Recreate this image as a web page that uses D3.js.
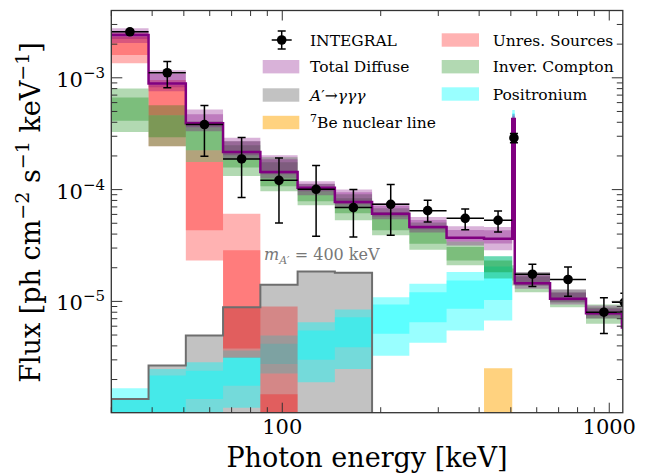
<!DOCTYPE html>
<html>
<head>
<meta charset="utf-8">
<script src="https://cdn.jsdelivr.net/npm/d3@7"></script>
<style>
body { margin: 0; background: #fff; }
text { font-family: "DejaVu Serif", serif; }
</style>
</head>
<body>
<svg id="chart" width="654" height="475"></svg>
<script>
// bin edges [keV]
var edges = [30, 39, 50.7, 65.9, 85.7, 111.4, 144.8, 188.2, 244.7, 318, 414, 505, 514, 659, 849, 1093, 1400];

// bands per bin: [lo95, lo68, hi68, hi95]
var totalBand = [
  [2.05e-3, 2.22e-3, 2.62e-3, 2.77e-3], [7.60e-4, 8.25e-4, 1.08e-3, 1.17e-3],
  [3.33e-4, 3.62e-4, 4.73e-4, 5.21e-4], [1.87e-4, 2.03e-4, 2.71e-4, 2.91e-4],
  [1.26e-4, 1.37e-4, 1.87e-4, 2.03e-4], [8.89e-5, 9.66e-5, 1.13e-4, 1.19e-4],
  [6.94e-5, 7.39e-5, 9.46e-5, 1.00e-4], [5.42e-5, 5.76e-5, 7.16e-5, 7.58e-5],
  [4.14e-5, 4.41e-5, 5.36e-5, 5.68e-5], [3.17e-5, 3.44e-5, 4.36e-5, 4.69e-5],
  [2.86e-5, 3.30e-5, 4.32e-5, 4.62e-5], [3.77e-4, 4.01e-4, 4.54e-4, 4.73e-4],
  [1.30e-5, 1.39e-5, 1.71e-5, 1.82e-5], [9.38e-6, 9.98e-6, 1.20e-5, 1.28e-5],
  [7.03e-6, 7.48e-6, 8.64e-6, 9.19e-6], [5.16e-6, 5.49e-6, 6.34e-6, 6.75e-6]
];
var totalMed = [2.41e-3, 8.91e-4, 3.93e-4, 2.17e-4, 1.44e-4, 1.04e-4, 7.74e-5, 6.09e-5,
                4.62e-5, 3.71e-5, 3.64e-5, 4.27e-4, 1.455e-5, 1.055e-5, 7.84e-6, 5.84e-6];

var icBand = [
  [3.28e-4, 4.12e-4, 6.68e-4, 8.04e-4], [2.44e-4, 2.94e-4, 4.63e-4, 5.69e-4],
  [1.77e-4, 2.25e-4, 3.77e-4, 4.09e-4], [1.32e-4, 1.58e-4, 2.49e-4, 2.71e-4],
  [9.66e-5, 1.07e-4, 1.76e-4, 1.95e-4], [7.23e-5, 7.85e-5, 1.05e-4, 1.12e-4],
  [5.31e-5, 6.13e-5, 8.36e-5, 9.08e-5], [3.90e-5, 4.32e-5, 6.26e-5, 6.80e-5],
  [2.90e-5, 3.28e-5, 4.69e-5, 5.09e-5], [2.10e-5, 2.32e-5, 3.06e-5, 3.44e-5],
  [1.60e-5, 1.82e-5, 2.32e-5, 2.53e-5], [1.39e-5, 1.54e-5, 1.97e-5, 2.10e-5],
  [1.21e-5, 1.39e-5, 1.67e-5, 1.82e-5], [8.87e-6, 9.77e-6, 1.20e-5, 1.28e-5],
  [6.30e-6, 7.03e-6, 8.82e-6, 9.38e-6], [4.56e-6, 5.05e-6, 6.34e-6, 6.75e-6]
];

var unresBand = [
  [1.35e-3, 1.60e-3, 2.32e-3, 2.51e-3], [2.44e-4, 4.63e-4, 8.60e-4, 9.54e-4],
  [2.32e-5, 4.32e-5, 1.77e-4, 2.25e-4], [3.14e-6, 3.78e-6, 2.86e-5, 6.09e-5],
  [3.0e-7, 5.0e-7, 1.48e-6, 9.00e-6]
];

var psBand = [
  [4.0e-7, 6.0e-7, 1.34e-6, 1.67e-6], [5.0e-7, 8.0e-7, 2.17e-6, 2.49e-6],
  [7.0e-7, 1.34e-6, 2.40e-6, 2.85e-6], [1.12e-6, 1.76e-6, 3.16e-6, 3.63e-6],
  [2.26e-6, 2.76e-6, 4.17e-6, 4.95e-6], [1.89e-6, 3.00e-6, 5.49e-6, 6.51e-6],
  [2.49e-6, 3.89e-6, 7.22e-6, 8.46e-6], [3.27e-6, 5.13e-6, 9.38e-6, 1.09e-5],
  [4.26e-6, 6.51e-6, 1.21e-5, 1.44e-5], [5.49e-6, 8.59e-6, 1.54e-5, 1.83e-5],
  [6.75e-6, 1.03e-5, 2.05e-5, 2.53e-5], [3.40e-4, 3.77e-4, 4.83e-4, 5.14e-4]
];

// dark photon A' -> 3 gamma, m = 400 keV
var darkFlux = [1.34e-6, 2.67e-6, 4.95e-6, 8.87e-6, 1.41e-5, 1.85e-5, 1.80e-5];

// 7Be nuclear line, in the 414-505 keV bin
var be7E = [414, 505];
var be7Flux = [3.0e-7, 2.52e-6];

// INTEGRAL data
var intE    = [34.2, 44.5, 57.8, 75.1, 97.7, 126.9, 165, 214.6, 278.4, 362.6, 457, 511, 582, 748, 963, 1112];
var intElo  = [30, 39, 50.7, 65.9, 85.7, 111.4, 144.8, 188.2, 244.7, 318, 414, 508, 514, 659, 849, 1019];
var intEhi  = [39, 50.7, 65.9, 85.7, 111.4, 144.8, 188.2, 244.7, 318, 414, 505, 514, 659, 849, 1093, 1220];
var intFlux = [2.58e-3, 1.11e-3, 3.82e-4, 1.88e-4, 1.21e-4, 1.006e-4, 6.90e-5, 7.39e-5,
               6.48e-5, 5.53e-5, 5.31e-5, 2.90e-4, 1.75e-5, 1.57e-5, 8.00e-6, 9.8e-6];
var intLo   = [2.48e-3, 8.14e-4, 1.99e-4, 8.48e-5, 5.02e-5, 3.82e-5, 3.76e-5, 3.90e-5,
               5.13e-5, 4.38e-5, 4.17e-5, 2.62e-4, 1.36e-5, 1.11e-5, 5.16e-6, 8.1e-6];
var intHi   = [2.69e-3, 1.40e-3, 5.66e-4, 2.92e-4, 1.92e-4, 1.64e-4, 1.00e-4, 1.11e-4,
               8.02e-5, 6.70e-5, 6.43e-5, 3.18e-4, 2.15e-5, 2.03e-5, 1.08e-5, 1.18e-5];

var yMajor = [1e-3, 1e-4, 1e-5];
var yMajorLabels = ['\u22123', '\u22124', '\u22125'];
var xMajor = [100, 1000];
var xMajorLabels = ['100', '1000'];

var PURPLE = '#800080', RED = '#ff0000', GREEN = '#008000', CYAN = '#00ffff', ORANGE = '#ffa500';

var svg = d3.select('#chart');
var L = 111.3, R = 622.8, T = 10.5, B = 412.7;
var x = d3.scaleLog().domain([30, 1100]).range([L, R]);
var y = d3.scaleLog().domain([1.01e-6, 4e-3]).range([B, T]);

svg.append('defs').append('clipPath').attr('id', 'clip')
    .append('rect').attr('x', L).attr('y', T).attr('width', R - L).attr('height', B - T);
var plot = svg.append('g').attr('clip-path', 'url(#clip)');

var area = d3.area().curve(d3.curveStepAfter)
    .x(function(d) { return x(d.e) })
    .y0(function(d) { return y(d.lo) })
    .y1(function(d) { return y(d.hi) });
var line = d3.line().curve(d3.curveStepAfter)
    .x(function(d) { return x(d.e) })
    .y(function(d) { return y(d.v) });

function bands(b, color, alpha) {
    [[0, 3], [1, 2]].forEach(function(p) {
	var pts = b.map(function(v, i) { return {e: edges[i], lo: v[p[0]], hi: v[p[1]]} });
	var last = b[b.length - 1];
	pts.push({e: edges[b.length], lo: last[p[0]], hi: last[p[1]]});
	plot.append('path').attr('d', area(pts))
	    .attr('fill', color).attr('fill-opacity', alpha);
    });
}

// A' histogram fill
var darkPts = darkFlux.map(function(v, i) { return {e: edges[i], lo: 1e-8, hi: v} });
darkPts.push({e: edges[darkFlux.length], lo: 1e-8, hi: darkFlux[darkFlux.length - 1]});
plot.append('path').attr('d', area(darkPts)).attr('fill', '#c2c2c2');

bands(psBand, CYAN, 0.4);
plot.append('path')
    .attr('d', area([{e: be7E[0], lo: be7Flux[0], hi: be7Flux[1]}, {e: be7E[1], lo: be7Flux[0], hi: be7Flux[1]}]))
    .attr('fill', ORANGE).attr('fill-opacity', 0.5);
bands(unresBand, RED, 0.3);
bands(icBand, GREEN, 0.3);
bands(totalBand, PURPLE, 0.3);

var medPts = totalMed.map(function(v, i) { return {e: edges[i], v: v} });
medPts.push({e: edges[totalMed.length], v: totalMed[totalMed.length - 1]});
plot.append('path').attr('d', line(medPts))
    .attr('fill', 'none').attr('stroke', PURPLE).attr('stroke-width', 2.5);

// A' outline
var darkLine = darkFlux.map(function(v, i) { return {e: edges[i], v: v} });
darkLine.push({e: edges[darkFlux.length], v: 1e-8});
plot.append('path').attr('d', line([{e: edges[0], v: 1e-8}].concat(darkLine)))
    .attr('fill', 'none').attr('stroke', '#6e6e6e').attr('stroke-width', 2);

// INTEGRAL points
var pts = plot.append('g').attr('stroke', '#000').attr('stroke-width', 1.5);
intE.forEach(function(e, i) {
    var cx = x(e), cy = y(intFlux[i]);
    pts.append('line').attr('x1', x(intElo[i])).attr('x2', x(intEhi[i])).attr('y1', cy).attr('y2', cy);
    pts.append('line').attr('x1', cx).attr('x2', cx).attr('y1', y(intLo[i])).attr('y2', y(intHi[i]));
    [intLo[i], intHi[i]].forEach(function(v) {
	pts.append('line').attr('x1', cx - 4).attr('x2', cx + 4).attr('y1', y(v)).attr('y2', y(v));
    });
    pts.append('circle').attr('cx', cx).attr('cy', cy).attr('r', 4.8).attr('fill', '#000').attr('stroke', 'none');
});

// ticks, inward on all four sides
var ticks = svg.append('g').attr('stroke', '#333').attr('stroke-width', 1);
function isMajor(v) { return Math.abs(Math.log10(v) - Math.round(Math.log10(v))) < 1e-6 }
x.ticks().forEach(function(v) {
    var len = isMajor(v) ? 10 : 5.5, px = x(v);
    ticks.append('line').attr('x1', px).attr('x2', px).attr('y1', B).attr('y2', B - len);
    ticks.append('line').attr('x1', px).attr('x2', px).attr('y1', T).attr('y2', T + len);
});
y.ticks().forEach(function(v) {
    var len = isMajor(v) ? 11 : 6, py = y(v);
    ticks.append('line').attr('x1', L).attr('x2', L + len).attr('y1', py).attr('y2', py);
    ticks.append('line').attr('x1', R).attr('x2', R - len).attr('y1', py).attr('y2', py);
});

svg.append('rect').attr('x', L).attr('y', T).attr('width', R - L).attr('height', B - T)
    .attr('fill', 'none').attr('stroke', '#333').attr('stroke-width', 1.3);

// tick labels
yMajor.forEach(function(v, i) {
    var t = svg.append('text').attr('x', 105).attr('y', y(v) + 9)
	.attr('text-anchor', 'end').attr('font-size', 21);
    t.append('tspan').text('10');
    t.append('tspan').attr('dy', -9).attr('font-size', 15).text(yMajorLabels[i]);
});
xMajor.forEach(function(v, i) {
    svg.append('text').attr('x', x(v)).attr('y', 434)
	.attr('text-anchor', 'middle').attr('font-size', 21).text(xMajorLabels[i]);
});

// axis titles
svg.append('text').attr('x', 367).attr('y', 466.5).attr('text-anchor', 'middle')
    .attr('font-size', 27).text('Photon energy [keV]');
var yt = svg.append('text').attr('transform', 'translate(40,212.5) rotate(-90)')
    .attr('text-anchor', 'middle').attr('font-size', 27);
yt.append('tspan').text('Flux [ph cm');
yt.append('tspan').attr('dy', -11).attr('font-size', 19).text('\u22122');
yt.append('tspan').attr('dy', 11).text(' s');
yt.append('tspan').attr('dy', -11).attr('font-size', 19).text('\u22121');
yt.append('tspan').attr('dy', 11).text(' keV');
yt.append('tspan').attr('dy', -11).attr('font-size', 19).text('\u22121');
yt.append('tspan').attr('dy', 11).text(']');

// mass label
var ml = svg.append('text').attr('x', 264).attr('y', 260).attr('font-size', 16).attr('fill', '#777');
ml.append('tspan').attr('font-style', 'italic').text('m');
ml.append('tspan').attr('dy', 4).attr('font-size', 11).attr('font-style', 'italic').text('A\u2032');
ml.append('tspan').attr('dy', -4).text(' = 400 keV');

// legend
var lg = svg.append('g').attr('font-size', 15.5);
var li = lg.append('g').attr('stroke', '#000').attr('stroke-width', 1.5);
li.append('line').attr('x1', 271.7).attr('x2', 291.7).attr('y1', 40).attr('y2', 40);
li.append('line').attr('x1', 281.7).attr('x2', 281.7).attr('y1', 31).attr('y2', 49);
li.append('line').attr('x1', 277.7).attr('x2', 285.7).attr('y1', 31).attr('y2', 31);
li.append('line').attr('x1', 277.7).attr('x2', 285.7).attr('y1', 49).attr('y2', 49);
li.append('circle').attr('cx', 281.7).attr('cy', 40).attr('r', 4.8).attr('fill', '#000').attr('stroke', 'none');
lg.append('text').attr('x', 310).attr('y', 45.6).text('INTEGRAL');

var col1 = [
    {c: PURPLE, a: 0.3, cy: 66.7},
    {c: '#c2c2c2', a: 1, cy: 95},
    {c: ORANGE, a: 0.5, cy: 122.5}
];
var col2 = [
    {c: RED, a: 0.3, cy: 40, t: 'Unres. Sources'},
    {c: GREEN, a: 0.3, cy: 66.7, t: 'Inver. Compton'},
    {c: CYAN, a: 0.4, cy: 94, t: 'Positronium'}
];
col1.forEach(function(d) {
    lg.append('rect').attr('x', 262.7).attr('y', d.cy - 6.7).attr('width', 36.6).attr('height', 13.4)
	.attr('fill', d.c).attr('fill-opacity', d.a);
});
col2.forEach(function(d) {
    lg.append('rect').attr('x', 441.7).attr('y', d.cy - 6.7).attr('width', 37.3).attr('height', 13.4)
	.attr('fill', d.c).attr('fill-opacity', d.a);
    lg.append('text').attr('x', 492.7).attr('y', d.cy + 5.6).text(d.t);
});
lg.append('text').attr('x', 310).attr('y', 66.7 + 5.6).text('Total Diffuse');
var ta = lg.append('text').attr('x', 310).attr('y', 95 + 5.6);
ta.append('tspan').attr('font-style', 'italic').text('A');
ta.append('tspan').text('\u2032\u2192');
ta.append('tspan').attr('font-style', 'italic').text('\u03b3\u03b3\u03b3');
var tb = lg.append('text').attr('x', 310).attr('y', 122.5 + 5.6);
tb.append('tspan').attr('dy', -6).attr('font-size', 11).text('7');
tb.append('tspan').attr('dy', 6).text('Be nuclear line');
</script>
</body>
</html>
